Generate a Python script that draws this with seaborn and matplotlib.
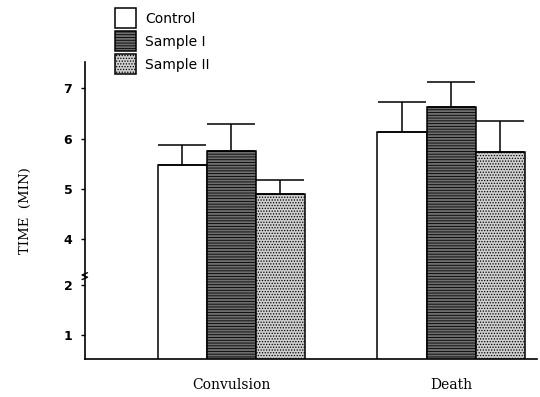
import numpy as np
import pandas as pd
import matplotlib
matplotlib.use("Agg")
import matplotlib.pyplot as plt
import seaborn as sns

categories = ["Convulsion", "Death"]
groups = ["Control", "Sample I", "Sample II"]
control_vals = [5.48, 6.14]
sample1_vals = [5.76, 6.62]
sample2_vals = [4.90, 5.74]
control_err = [0.40, 0.58]
sample1_err = [0.52, 0.50]
sample2_err = [0.28, 0.60]
y_ticks = [1, 2, 4, 5, 6, 7]

df = pd.DataFrame({
    "event": categories * 3,
    "group": sum([[g] * len(categories) for g in groups], []),
    "time": control_vals + sample1_vals + sample2_vals,
})
errs = {"Control": control_err, "Sample I": sample1_err, "Sample II": sample2_err}

sns.set_theme(style="white")
plt.rcParams["hatch.linewidth"] = 0.6
plt.rcParams["text.color"] = "black"
plt.rcParams["axes.labelcolor"] = "black"
plt.rcParams["xtick.color"] = "black"
plt.rcParams["ytick.color"] = "black"

fig = plt.figure(figsize=(5.4, 3.97), dpi=100)
ax = fig.add_axes([0.157, 0.0957, 0.837, 0.748])

# broken axis: values 2..4 compressed
fwd_x = [0, 2, 4, 20]
fwd_y = [0, 2, 2.9, 18.9]
def forward(v):
    return np.interp(v, fwd_x, fwd_y)
def inverse(v):
    return np.interp(v, fwd_y, fwd_x)
ax.set_yscale("function", functions=(forward, inverse))

faces = {"Control": "white", "Sample I": "#6e6e6e", "Sample II": "#cfcfcf"}
hatches = {"Control": "", "Sample I": "------", "Sample II": "......"}

sns.barplot(data=df, x="event", y="time", hue="group", order=categories,
            hue_order=groups, errorbar=None, width=0.67, ax=ax, legend=False,
            palette=faces, saturation=1)

handles = []
for cont, g in zip(ax.containers, groups):
    for bar, e in zip(cont, errs[g]):
        bar.set_facecolor(faces[g])
        bar.set_edgecolor("black")
        bar.set_linewidth(1.1)
        bar.set_hatch(hatches[g])
        xc = bar.get_x() + bar.get_width() / 2
        top = bar.get_height()
        ax.errorbar([xc], [top], yerr=[[0], [e]], fmt="none", ecolor="black",
                    elinewidth=1.1, capsize=17, capthick=1.1)
    handles.append(cont[0])

ax.set_ylim(0.52, 7.52)
ax.set_xlim(-0.667, 1.39)
ax.set_yticks(y_ticks)
ax.set_yticklabels([str(t) for t in y_ticks], fontsize=9, family="DejaVu Sans",
                   fontweight="bold")
ax.set_xticks(range(len(categories)))
ax.set_xticklabels(categories, fontsize=10, family="DejaVu Serif")
ax.tick_params(axis="x", length=0, pad=14)
ax.tick_params(axis="y", length=3, width=1, direction="out", left=True, pad=6)
ax.set_xlabel("")
ax.set_ylabel("TIME  (MIN)", fontsize=9.5, family="DejaVu Serif", labelpad=23)

for s in ["top", "right"]:
    ax.spines[s].set_visible(False)
for s in ["left", "bottom"]:
    ax.spines[s].set_color("black")
    ax.spines[s].set_linewidth(1.2)

# break mark on the axis
trans = ax.get_yaxis_transform()
ax.plot([-0.006, 0.006, -0.006, 0.006], [2.22, 2.32, 2.42, 2.52], color="black",
        lw=1, transform=trans, clip_on=False)

leg = fig.legend(handles, groups, loc="upper left", bbox_to_anchor=(0.197, 1.0),
                 frameon=False, fontsize=10, handlelength=1.5, handleheight=1.85,
                 handletextpad=0.7, labelspacing=0.2, borderaxespad=0.2)

fig.savefig("out.png", dpi=100)
